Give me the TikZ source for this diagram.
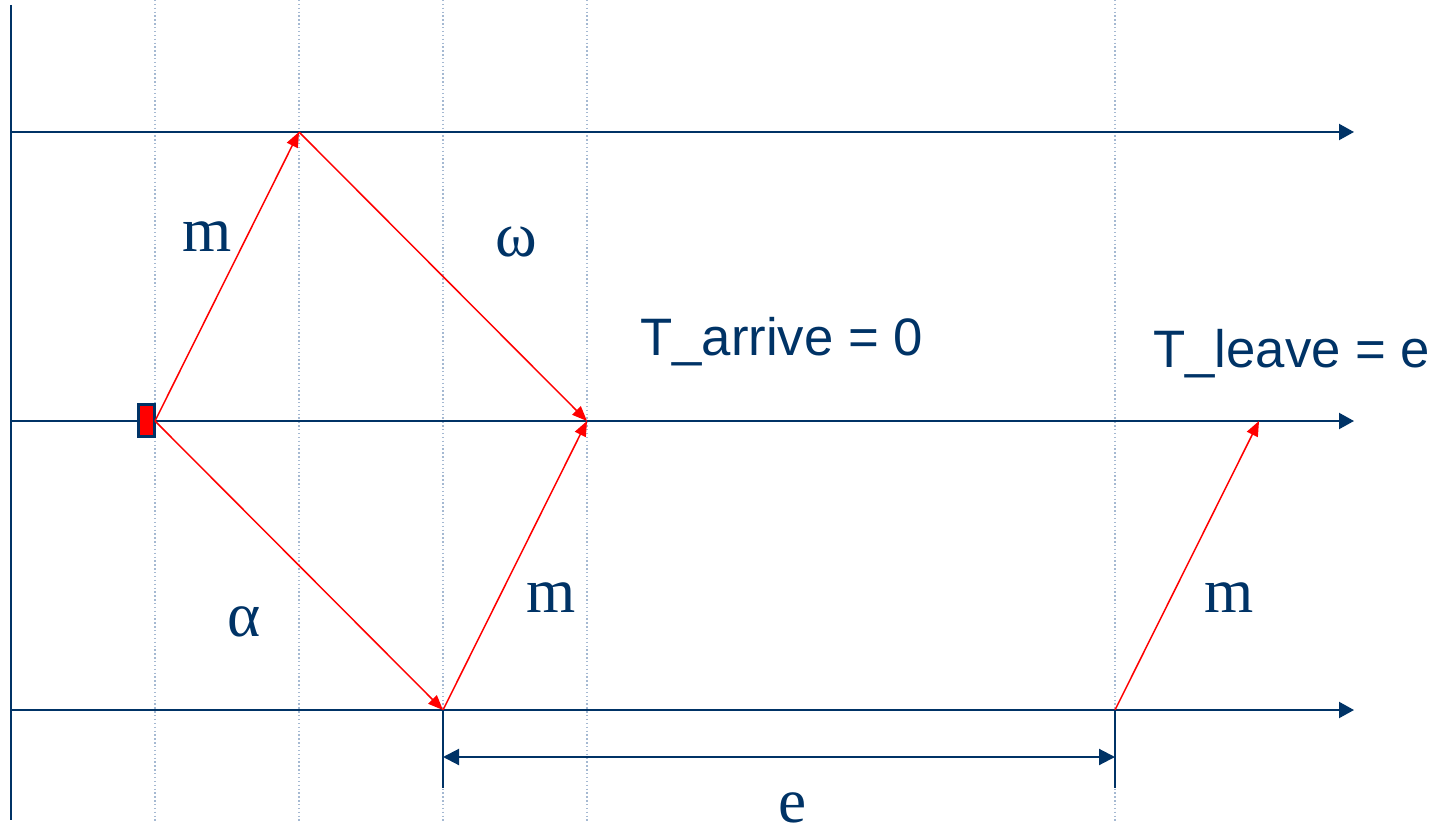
\documentclass[tikz,border=0pt]{standalone}
\usepackage{fontspec}
\setmainfont{Liberation Serif}
\newfontfamily\sansf{Liberation Sans}
\usetikzlibrary{arrows.meta}
\definecolor{navy}{RGB}{0,51,102}
\definecolor{dotc}{RGB}{165,185,210}
\begin{document}
\begin{tikzpicture}[x=0.02cm,y=-0.02cm,
  axis/.style={navy, line width=1.2pt, -{Triangle[length=0.3cm,width=0.32cm]}},
  msg/.style={red, line width=0.85pt, -{Triangle[length=0.3cm,width=0.24cm]}},
  gridline/.style={dotc, line width=0.6pt, dash pattern=on 0.8pt off 1.4pt},
  dim/.style={navy, line width=1.2pt, {Triangle[length=0.32cm,width=0.32cm]}-{Triangle[length=0.32cm,width=0.32cm]}},
  tick/.style={navy, line width=1.2pt},
  lbl/.style={navy, inner sep=0pt, font=\fontsize{36}{40}\selectfont},
  slbl/.style={navy, inner sep=0pt, font=\sansf\fontsize{30}{34}\selectfont},
  box/.style={draw=navy, fill=red, line width=1.3pt, minimum width=0.32cm, minimum height=0.64cm, inner sep=0pt}]
\useasboundingbox (0,0) rectangle (1447,831);
% dotted vertical guides
\foreach \x/\n in {155/ga,299/gb,443/gc,587/gd,1115/ge}{
  \coordinate (\n t) at (\x,0);
  \coordinate (\n b) at (\x,822);
  \draw[gridline] (\n t) -- (\n b);
}
% left vertical axis
\coordinate (vt) at (11,5);
\coordinate (vb) at (11,820);
\draw[tick] (vt) -- (vb);
% horizontal time lines
\coordinate (a1) at (11,132);  \coordinate (a1e) at (1354,132);
\coordinate (a2) at (11,421);  \coordinate (a2e) at (1354,421);
\coordinate (a3) at (11,710);  \coordinate (a3e) at (1354,710);
\draw[axis] (a1) -- (a1e);
\draw[axis] (a2) -- (a2e);
\draw[axis] (a3) -- (a3e);
% message points
\coordinate (s) at (155,421);
\coordinate (top) at (299,132);
\coordinate (mid) at (587,421);
\coordinate (bot) at (443,710);
\coordinate (bot2) at (1115,710);
\coordinate (fin) at (1259,421);
\node[box] (sender) at (146.5,420.5) {};
\draw[msg] (s) -- (top);
\draw[msg] (top) -- (mid);
\draw[msg] (s) -- (bot);
\draw[msg] (bot) -- (mid);
\draw[msg] (bot2) -- (fin);
% dimension e
\coordinate (t1) at (443,788);
\coordinate (t2) at (1115,788);
\coordinate (d1) at (443,757);
\coordinate (d2) at (1115,757);
\draw[tick] (bot) -- (t1);
\draw[tick] (bot2) -- (t2);
\draw[dim] (d1) -- (d2);
% labels
\node[lbl] (m1) at (207,237) {m};
\node[lbl] (om) at (516,242) {ω};
\node[lbl] (al) at (244,622) {α};
\node[lbl] (m2) at (551,598) {m};
\node[lbl] (m3) at (1229,598) {m};
\node[lbl] (el) at (793,808) {e};
\node[slbl, anchor=base west] (ta) at (640,355) {T\_arrive = 0};
\node[slbl, anchor=base west] (tl) at (1153,367) {T\_leave = e};
\end{tikzpicture}
\end{document}
